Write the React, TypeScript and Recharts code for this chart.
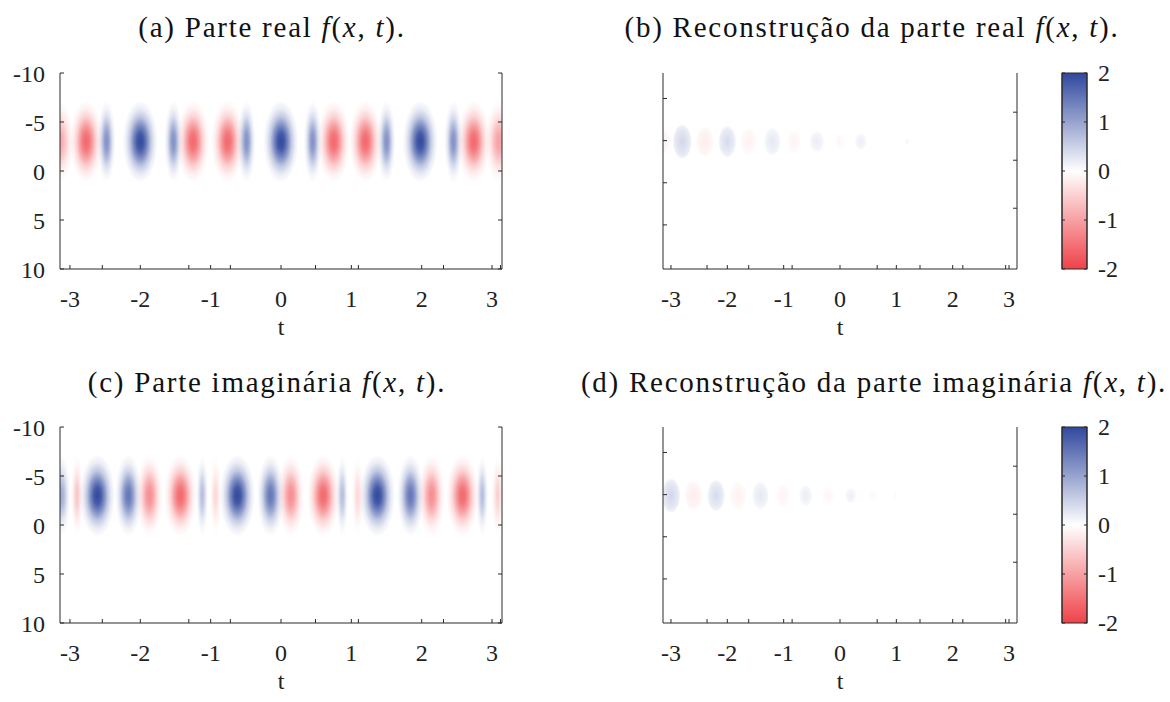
import React from 'react';
import { ComposedChart, XAxis, YAxis, ReferenceArea, Scatter } from 'recharts';

// ---- axes ----
const tTicks = [-3, -2, -1, 0, 1, 2, 3];
const tMinorLeft = [-2.54, -1.31, -0.72, 0.49, 1.1, 2.31, 3.12];
const tMinorRight = [-2.36, -1.62, -0.85, 0.66, 1.42, 2.18, 2.94];
const xTicks = [-10, -5, 0, 5, 10];
const xTicksReconLeft = [-7.4, -3.1, 1.2, 5.5];
const xTicksReconRight = [-6, -1.1, 3.8];
const barTicks = [-2, -1, 0, 1, 2];

// every packet sits around x = -3
const packetX = -3;
const origHalfHeight = 4.2;

// (a) real part: centre in t, amplitude, half-width in t
const realT = [-3.14, -2.77, -2.48, -2.0, -1.53, -1.25, -0.76, -0.49, 0.0, 0.45, 0.75, 1.2, 1.5, 1.98, 2.45, 2.74, 3.1];
const realAmp = [-0.9, -1.6, 1.2, 2.0, 1.2, -1.6, -1.6, 1.2, 2.0, 1.2, -1.6, -1.6, 1.2, 2.0, 1.2, -1.6, -1.0];
const realW = [0.2, 0.23, 0.13, 0.25, 0.13, 0.23, 0.23, 0.13, 0.25, 0.13, 0.23, 0.23, 0.13, 0.25, 0.13, 0.23, 0.2];

// (c) imaginary part
const imagT = [-3.12, -2.9, -2.61, -2.17, -1.87, -1.43, -1.12, -0.93, -0.62, -0.15, 0.14, 0.6, 0.87, 1.09, 1.37, 1.84, 2.14, 2.58, 2.86, 3.08];
const imagAmp = [0.9, -0.6, 2.0, 1.5, -1.2, -1.6, 0.7, -0.4, 2.0, 1.5, -1.2, -1.6, 0.7, -0.4, 2.0, 1.5, -1.2, -1.6, 0.7, -0.5];
const imagW = [0.13, 0.09, 0.25, 0.19, 0.19, 0.23, 0.09, 0.09, 0.25, 0.19, 0.19, 0.23, 0.09, 0.09, 0.25, 0.19, 0.19, 0.23, 0.09, 0.09];

// (b) reconstruction of the real part: centre, amplitude, half-width in t, half-height in x
const recRealT = [-3.12, -2.8, -2.4, -2.0, -1.62, -1.2, -0.82, -0.41, 0.0, 0.37, 1.19];
const recRealAmp = [-0.15, 0.45, -0.2, 0.4, -0.15, 0.25, -0.12, 0.2, -0.1, 0.18, 0.12];
const recRealW = [0.1, 0.17, 0.16, 0.16, 0.15, 0.15, 0.13, 0.13, 0.09, 0.11, 0.04];
const recRealH = [1.3, 1.8, 1.55, 1.65, 1.4, 1.45, 1.2, 1.1, 0.75, 0.85, 0.3];

// (d) reconstruction of the imaginary part
const recImagT = [-3.0, -2.6, -2.2, -1.81, -1.41, -1.01, -0.61, -0.21, 0.19, 0.58, 0.98];
const recImagAmp = [0.45, -0.2, 0.4, -0.15, 0.25, -0.12, 0.2, -0.1, 0.18, -0.08, 0.08];
const recImagW = [0.17, 0.16, 0.16, 0.15, 0.15, 0.13, 0.12, 0.11, 0.1, 0.08, 0.03];
const recImagH = [1.8, 1.6, 1.65, 1.5, 1.45, 1.25, 1.1, 0.95, 0.8, 0.55, 0.3];

const BLUE = [48, 72, 158];
const RED = [239, 66, 72];
const AXIS = '#2a2a2a';
const FONT = '"Liberation Serif", "DejaVu Serif", serif';

// radial falloff (offset, relative strength)
const gaussProfile = [[0, 1], [0.2, 0.9], [0.4, 0.62], [0.6, 0.3], [0.8, 0.1], [1, 0]];
const flatProfile = [[0, 1], [0.3, 0.8], [0.6, 0.62], [0.85, 0.4], [1, 0]];

type Blob = { t: number; x: number; a: number; w: number; h: number };

function makeBlobs(ts: number[], amps: number[], ws: number[], hs?: number[]): Blob[] {
  return ts.map((t, i) => ({ t, x: packetX, a: amps[i], w: ws[i], h: hs ? hs[i] : origHalfHeight }));
}

const realBlobs = makeBlobs(realT, realAmp, realW);
const imagBlobs = makeBlobs(imagT, imagAmp, imagW);
const recRealBlobs = makeBlobs(recRealT, recRealAmp, recRealW, recRealH);
const recImagBlobs = makeBlobs(recImagT, recImagAmp, recImagW, recImagH);

function blobShape(b: Blob, id: string, profile: number[][]) {
  return (p: any) => {
    const w = Math.abs(p.width);
    const h = Math.abs(p.height);
    const cx = p.x + p.width / 2;
    const cy = p.y + p.height / 2;
    const rgb = b.a >= 0 ? BLUE : RED;
    const peak = Math.min(1, Math.abs(b.a) / 2);
    return (
      <g clipPath={p.clipPath}>
        <defs>
          <radialGradient id={id} cx="50%" cy="50%" r="50%">
            {profile.map(([o, v]) => (
              <stop key={o} offset={o} stopColor={`rgb(${rgb.join(',')})`} stopOpacity={peak * v} />
            ))}
          </radialGradient>
        </defs>
        <ellipse cx={cx} cy={cy} rx={w / 2} ry={h / 2} fill={`url(#${id})`} />
      </g>
    );
  };
}

const tickStyle = { fill: '#222', fontSize: 24, fontFamily: FONT };
const blank = () => '';

type PanelProps = {
  id: string;
  left: number;
  top: number;
  width: number;
  rightWidth: number;
  blobs: Blob[];
  profile: number[][];
  showY: boolean;
  minor: number[];
  yLeft: number[];
  yRight: number[];
};

function HeatPanel({ id, left, top, width, rightWidth, blobs, profile, showY, minor, yLeft, yRight }: PanelProps) {
  const allT = [...tTicks, ...minor];
  return (
    <div style={{ position: 'absolute', left, top }}>
      <ComposedChart width={width} height={300} margin={{ top: 23, right: 0, bottom: 0, left: 0 }}>
        <XAxis
          xAxisId="b"
          type="number"
          dataKey="t"
          domain={[-Math.PI, Math.PI]}
          allowDataOverflow
          ticks={allT}
          interval={0}
          tickFormatter={(v: number) => (tTicks.includes(v) ? String(v) : '')}
          tick={tickStyle}
          tickSize={-4}
          tickMargin={25}
          height={81}
          stroke={AXIS}
          label={{ value: 't', position: 'insideBottom', offset: 15, style: tickStyle }}
        />
        <XAxis
          xAxisId="top"
          orientation="top"
          type="number"
          domain={[-Math.PI, Math.PI]}
          allowDataOverflow
          ticks={allT}
          interval={0}
          tickFormatter={blank}
          tickSize={-4}
          height={0}
          stroke={AXIS}
        />
        <YAxis
          yAxisId="l"
          type="number"
          dataKey="x"
          domain={[-10, 10]}
          reversed
          allowDataOverflow
          ticks={showY ? xTicks : yLeft}
          interval={0}
          tickFormatter={showY ? (v: number) => String(v) : blank}
          tick={tickStyle}
          tickSize={-4}
          tickMargin={19}
          width={60}
          stroke={AXIS}
        />
        <YAxis
          yAxisId="r"
          orientation="right"
          type="number"
          domain={[-10, 10]}
          reversed
          allowDataOverflow
          ticks={showY ? xTicks : yRight}
          interval={0}
          tickFormatter={blank}
          tickSize={-4}
          width={rightWidth}
          stroke={AXIS}
        />
        {blobs.map((b, i) => (
          <ReferenceArea
            key={i}
            xAxisId="b"
            yAxisId="l"
            x1={b.t - b.w}
            x2={b.t + b.w}
            y1={b.x - b.h}
            y2={b.x + b.h}
            ifOverflow="hidden"
            shape={blobShape(b, `${id}-${i}`, profile)}
          />
        ))}
        <Scatter xAxisId="b" yAxisId="l" data={blobs} isAnimationActive={false} shape={() => <g />} />
      </ComposedChart>
    </div>
  );
}

const barData = barTicks.map((v) => ({ c: 0.5, v }));

function BarTick(p: any) {
  return (
    <text x={p.x} y={p.y} dy="0.35em" textAnchor="start" fill="#222" fontSize={24} fontFamily={FONT}>
      {String(p.payload.value)}
    </text>
  );
}

function ColorBar({ left, top }: { left: number; top: number }) {
  const gid = `cbar-${top}`;
  return (
    <div style={{ position: 'absolute', left, top }}>
      <ComposedChart width={110} height={250} margin={{ top: 23, right: 0, bottom: 31, left: 0 }}>
        <XAxis xAxisId="c" type="number" dataKey="c" domain={[0, 1]} hide />
        <YAxis
          yAxisId="l"
          type="number"
          dataKey="v"
          domain={[-2, 2]}
          ticks={barTicks}
          interval={0}
          tickFormatter={blank}
          tickSize={-3}
          width={20}
          stroke={AXIS}
        />
        <YAxis
          yAxisId="r"
          orientation="right"
          type="number"
          dataKey="v"
          domain={[-2, 2]}
          ticks={barTicks}
          interval={0}
          tick={<BarTick />}
          tickSize={-3}
          tickMargin={14}
          width={65}
          stroke={AXIS}
        />
        <ReferenceArea
          xAxisId="c"
          yAxisId="l"
          x1={0}
          x2={1}
          y1={-2}
          y2={2}
          ifOverflow="visible"
          shape={(p: any) => (
            <g>
              <defs>
                <linearGradient id={gid} x1="0" y1="0" x2="0" y2="1">
                  <stop offset="0" stopColor={`rgb(${BLUE.join(',')})`} />
                  <stop offset="0.5" stopColor="#ffffff" />
                  <stop offset="1" stopColor={`rgb(${RED.join(',')})`} />
                </linearGradient>
              </defs>
              <rect
                x={Math.min(p.x, p.x + p.width)}
                y={Math.min(p.y, p.y + p.height)}
                width={Math.abs(p.width)}
                height={Math.abs(p.height)}
                fill={`url(#${gid})`}
                stroke={AXIS}
              />
            </g>
          )}
        />
        <Scatter xAxisId="c" yAxisId="l" data={barData} isAnimationActive={false} shape={() => <g />} />
        <Scatter xAxisId="c" yAxisId="r" data={barData} isAnimationActive={false} shape={() => <g />} />
      </ComposedChart>
    </div>
  );
}

function Title({ cx, top, label, text }: { cx: number; top: number; label: string; text: string }) {
  return (
    <div
      style={{
        position: 'absolute',
        left: cx - 340,
        width: 680,
        top,
        textAlign: 'center',
        fontFamily: FONT,
        fontSize: 29,
        letterSpacing: 1.75,
        lineHeight: '30px',
        color: '#111',
        whiteSpace: 'nowrap',
      }}
    >
      {label} {text} <i>f</i>(<i>x</i>, <i>t</i>).
    </div>
  );
}

export default function App() {
  return (
    <div style={{ position: 'absolute', left: 0, top: 0, width: 1170, height: 702, background: '#fff' }}>
      <Title cx={272} top={12} label="(a)" text="Parte real" />
      <Title cx={267} top={367} label="(c)" text="Parte imaginária" />
      <Title cx={872} top={12} label="(b)" text="Reconstrução da parte real" />
      <Title cx={874} top={367} label="(d)" text="Reconstrução da parte imaginária" />

      <HeatPanel id="a" left={0} top={50} width={520} rightWidth={18} blobs={realBlobs} profile={gaussProfile}
        showY minor={tMinorLeft} yLeft={xTicks} yRight={xTicks} />
      <HeatPanel id="b" left={603} top={50} width={420} rightWidth={6} blobs={recRealBlobs} profile={flatProfile}
        showY={false} minor={tMinorRight} yLeft={xTicksReconLeft} yRight={xTicksReconRight} />
      <HeatPanel id="c" left={0} top={404} width={520} rightWidth={18} blobs={imagBlobs} profile={gaussProfile}
        showY minor={tMinorLeft} yLeft={xTicks} yRight={xTicks} />
      <HeatPanel id="d" left={603} top={404} width={420} rightWidth={6} blobs={recImagBlobs} profile={flatProfile}
        showY={false} minor={tMinorRight} yLeft={xTicksReconLeft} yRight={xTicksReconRight} />

      <ColorBar left={1042} top={50} />
      <ColorBar left={1042} top={404} />
    </div>
  );
}
